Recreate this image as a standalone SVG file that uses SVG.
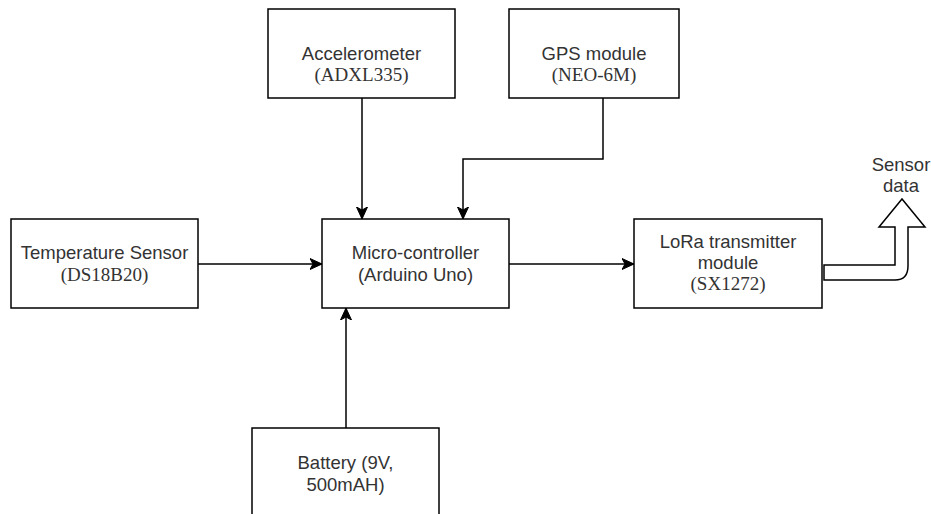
<svg xmlns="http://www.w3.org/2000/svg" width="931" height="514" viewBox="0 0 931 514">
<defs>
<style>
.box{fill:#fff;stroke:#000;stroke-width:1.5}
.t{font-family:"Liberation Sans",Arial,sans-serif;font-size:18.5px;fill:#333;text-anchor:middle}
.s{font-family:"Liberation Serif","Times New Roman",serif;font-size:19px;fill:#333;text-anchor:middle}
.c{fill:none;stroke:#000;stroke-width:1.5}
</style>
<marker id="arr" markerUnits="userSpaceOnUse" markerWidth="14" markerHeight="14" viewBox="0 -7 14 14" refX="12" refY="0" orient="auto">
<path d="M0,-5.5 L12,0 L0,5.5 L3,0 Z" fill="#000" stroke="#000" stroke-width="1"/>
</marker>
</defs>
<rect width="931" height="514" fill="#fff"/>
<g id="connectors">
<path class="c" d="M362,98 V219" marker-end="url(#arr)"/>
<path class="c" d="M603,98 V159 H463 V219" marker-end="url(#arr)"/>
<path class="c" d="M198,264 H322" marker-end="url(#arr)"/>
<path class="c" d="M509,264 H634" marker-end="url(#arr)"/>
<path class="c" d="M346,428 V308" marker-end="url(#arr)"/>
<path id="sensor-arrow" d="M824,265 H895 V227 H879 L902,199 L925,227 H908 V266 Q908,280 895,280 H824 Z" fill="#fff" stroke="#000" stroke-width="1.5" stroke-linejoin="miter"/>
</g>
<g id="accelerometer">
<rect class="box" x="268" y="9" width="187" height="89"/>
<text class="t" x="361.5" y="60">Accelerometer</text>
<text class="s" x="361.5" y="81">(ADXL335)</text>
</g>
<g id="gps">
<rect class="box" x="509" y="9" width="170" height="89"/>
<text class="t" x="594" y="60">GPS module</text>
<text class="s" x="594" y="81">(NEO-6M)</text>
</g>
<g id="temperature">
<rect class="box" x="11" y="219" width="187" height="89"/>
<text class="t" x="104.5" y="259">Temperature Sensor</text>
<text class="s" x="104.5" y="281">(DS18B20)</text>
</g>
<g id="microcontroller">
<rect class="box" x="322" y="219" width="187" height="89"/>
<text class="t" x="415.5" y="259">Micro-controller</text>
<text class="t" x="415.5" y="281">(Arduino Uno)</text>
</g>
<g id="lora">
<rect class="box" x="634" y="219" width="188" height="89"/>
<text class="t" x="728" y="248">LoRa transmitter</text>
<text class="t" x="728" y="269">module</text>
<text class="s" x="728" y="290">(SX1272)</text>
</g>
<g id="battery">
<rect class="box" x="252" y="428" width="187" height="89"/>
<text class="t" x="345.5" y="469">Battery (9V,</text>
<text class="t" x="345.5" y="491">500mAH)</text>
</g>
<g id="sensor-data">
<text class="t" x="901" y="171">Sensor</text>
<text class="t" x="901" y="192">data</text>
</g>
</svg>
